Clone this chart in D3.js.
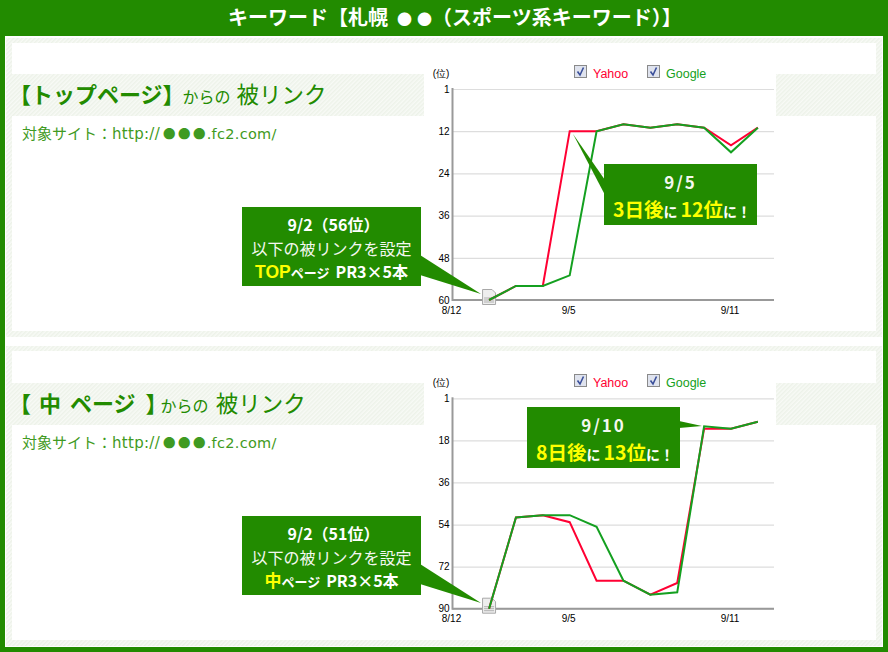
<!DOCTYPE html>
<html>
<head>
<meta charset="utf-8">
<title>キーワード</title>
<script src="https://cdnjs.cloudflare.com/ajax/libs/d3/7.8.5/d3.min.js"></script>
<style>
html, body { margin: 0; padding: 0; background: #fff; }
svg { display: block; }
text { font-family: "Noto Sans CJK JP", "Noto Sans", sans-serif; }
.tick text, .small { font-family: "Liberation Sans", sans-serif; }
</style>
</head>
<body>
<div id="app"></div>
<script>
var seriesNames = ["Yahoo", "Google"];
var seriesColors = ["#ff0033", "#14a020"];

// x position is days counted from 9/2, 8/12 sits just left of it on this chart
var days = [0, 1, 2, 3, 4, 5, 6, 7, 8, 9, 10];
var xTickDays = [-1.36, 3, 9];
var xTickLabels = ["8/12", "9/5", "9/11"];

var topYTicks = [0, 12, 24, 36, 48, 60];
var topYLabels = ["1", "12", "24", "36", "48", "60"];
var topYahoo = [60, 56, 56, 12, 12, 10, 11, 10, 11, 16, 11];
var topGoogle = [60, 56, 56, 53, 12, 10, 11, 10, 11, 18, 11];

var midYTicks = [0, 18, 36, 54, 72, 90];
var midYLabels = ["1", "18", "36", "54", "72", "90"];
var midYahoo = [90, 51, 50, 53, 78, 78, 84, 79, 13, 13, 10];
var midGoogle = [90, 51, 50, 50, 55, 78, 84, 83, 12, 13, 10];

var WIDTH = 888, HEIGHT = 652;
var GREEN = "#228b00", YELLOW = "#ffff00", WHITE = "#fff", SUB = "#3f9a22";
var LATIN = "DejaVu Sans";

var svg = d3.select("#app").append("svg")
	.attr("width", WIDTH)
	.attr("height", HEIGHT);

var pattern = svg.append("defs").append("pattern")
	.attr("id", "hatch")
	.attr("patternUnits", "userSpaceOnUse")
	.attr("width", 3)
	.attr("height", 3)
	.attr("patternTransform", "rotate(-45)");
pattern.append("rect").attr("width", 3).attr("height", 3).attr("fill", "#f8faf6");
pattern.append("rect").attr("width", 3).attr("height", 1.5).attr("fill", "#edf2e9");

function box(parent, x, y, w, h, fill) {
	return parent.append("rect")
		.attr("x", x).attr("y", y)
		.attr("width", w).attr("height", h)
		.attr("fill", fill);
}

// one text line built from runs: t text, s size, c colour, and optional
// dx shift, w weight, f font family, ls letter spacing
function runs(parent, x, y, parts, anchor) {
	var t = parent.append("text")
		.attr("x", x).attr("y", y)
		.attr("text-anchor", anchor);
	parts.forEach(function(p) {
		var span = t.append("tspan")
			.attr("font-size", p.s)
			.attr("fill", p.c)
			.attr("font-weight", p.w || 400)
			.text(p.t);
		if (p.dx) span.attr("dx", p.dx);
		if (p.f) span.attr("font-family", p.f);
		if (p.ls) span.attr("letter-spacing", p.ls);
	});
	return t;
}

// frame
box(svg, 0, 0, WIDTH, HEIGHT, GREEN);
box(svg, 5, 36, 878, 611, WHITE);

runs(svg, 228, 25, [
	{ t: "キーワード【札幌", s: 20, c: WHITE, w: 700 },
	{ t: "●", s: 15, c: WHITE, w: 700, dx: 9 },
	{ t: "●", s: 15, c: WHITE, w: 700, dx: 5 },
	{ t: "（スポーツ系キーワード）】", s: 20, c: WHITE, w: 700 }
], "start");

var siteLine = [
	{ t: "対象サイト：", s: 15, c: SUB },
	{ t: "http://", s: 15, c: SUB, f: LATIN, ls: 0.3 },
	{ t: "●", s: 12.5, c: SUB, dx: 3 },
	{ t: "●", s: 12.5, c: SUB, dx: 2.5 },
	{ t: "●", s: 12.5, c: SUB, dx: 2.5 },
	{ t: ".fc2.com/", s: 14.5, c: SUB, f: LATIN, ls: 0.3, dx: 1 }
];

function drawPanel(o) {
	var g = svg.append("g");

	box(g, 6, o.panelTop, 876, o.panelBottom - o.panelTop, "url(#hatch)");
	box(g, 12, o.panelTop + 5, 864, o.panelBottom - o.panelTop - 11, WHITE);
	box(g, 12, o.bandTop, 864, 42, "url(#hatch)");
	box(g, 424, o.bandTop, 352, 42, WHITE);

	runs(g, 9, o.bandTop + 29, o.heading, "start");
	runs(g, 22, o.bandTop + 65, siteLine, "start");

	var x = d3.scaleLinear().domain([-1.36, 10.6]).range([452.5, 774]);
	var y = d3.scaleLinear().domain(o.yDomain).range([o.yTop, o.yBottom]);

	// gridlines come from the tick lines of the left axis
	var yAxis = d3.axisLeft(y)
		.tickValues(o.yTicks)
		.tickFormat(function(d, i) { return o.yLabels[i]; })
		.tickSize(-(x.range()[1] - x.range()[0]))
		.tickPadding(3);
	var yg = g.append("g").attr("transform", "translate(452.5,0)").call(yAxis);
	yg.select(".domain").remove();
	yg.selectAll(".tick line").attr("stroke", "#dddddd").attr("stroke-width", 1.2);
	yg.selectAll(".tick text").attr("font-size", 10).attr("fill", "#000");

	var xAxis = d3.axisBottom(x)
		.tickValues(xTickDays)
		.tickFormat(function(d, i) { return xTickLabels[i]; })
		.tickSize(0)
		.tickPadding(6.5);
	var xg = g.append("g").attr("transform", "translate(0," + o.yBottom + ")").call(xAxis);
	xg.select(".domain").remove();
	xg.selectAll(".tick text").attr("font-size", 10).attr("fill", "#000").attr("dx", -1.5);

	g.append("line")
		.attr("x1", x.range()[0]).attr("x2", x.range()[1])
		.attr("y1", o.yBottom).attr("y2", o.yBottom)
		.attr("stroke", "#999").attr("stroke-width", 2);
	g.append("line")
		.attr("x1", x.range()[0]).attr("x2", x.range()[0])
		.attr("y1", o.yTop - 1).attr("y2", o.yBottom + 1)
		.attr("stroke", "#999").attr("stroke-width", 2);

	g.append("text")
		.attr("class", "small")
		.attr("x", 441).attr("y", o.yTop - 12)
		.attr("text-anchor", "middle")
		.attr("font-size", 10).attr("fill", "#000")
		.text("(位)");

	// page icon on the first point
	var icon = g.append("g")
		.attr("transform", "translate(" + x(days[0]) + "," + o.yBottom + ")");
	icon.append("path")
		.attr("d", "M-6.5,-10.5H3L6.5,-7V4.5H-6.5Z")
		.attr("fill", "#eeeeee")
		.attr("stroke", "#a8a8a8");
	icon.selectAll("line").data([-2, 0, 2]).join("line")
		.attr("x1", -5).attr("x2", 5)
		.attr("y1", function(d) { return d; })
		.attr("y2", function(d) { return d; })
		.attr("stroke", "#b0b0b0");

	var lineGen = d3.line()
		.x(function(d, i) { return x(days[i]); })
		.y(function(d) { return y(d); });

	[o.yahoo, o.google].forEach(function(values, i) {
		g.append("path")
			.attr("d", lineGen(values))
			.attr("fill", "none")
			.attr("stroke", seriesColors[i])
			.attr("stroke-width", 2);
	});

	// legend
	[574, 647].forEach(function(lx, i) {
		var l = g.append("g").attr("transform", "translate(" + lx + "," + o.legendTop + ")");
		l.append("rect")
			.attr("x", 0.5).attr("y", 0.5)
			.attr("width", 12).attr("height", 12)
			.attr("fill", "#dfe3ee")
			.attr("stroke", "#8a8a8a");
		l.append("path")
			.attr("d", "M3.5,6.5L6,10L9.5,2.5")
			.attr("fill", "none")
			.attr("stroke", "#3a4f9a")
			.attr("stroke-width", 1.6);
		l.append("text")
			.attr("class", "small")
			.attr("x", 19).attr("y", 13)
			.attr("font-size", 12.5)
			.attr("fill", seriesColors[i])
			.text(seriesNames[i]);
	});

	o.callouts.forEach(function(c) {
		var cg = g.append("g");
		cg.append("path")
			.attr("d", "M" + c.tail.map(function(p) { return p.join(","); }).join("L") + "Z")
			.attr("fill", GREEN);
		box(cg, c.x, c.y, c.w, c.h, GREEN);
		c.lines.forEach(function(l) {
			runs(cg, c.x + c.w / 2 + (l.shift || 0), c.y + l.dy, l.parts, "middle");
		});
	});
}

drawPanel({
	panelTop: 38, panelBottom: 337, bandTop: 74,
	yDomain: [0, 60], yTop: 89, yBottom: 300,
	yTicks: topYTicks, yLabels: topYLabels,
	yahoo: topYahoo, google: topGoogle,
	legendTop: 65,
	heading: [
		{ t: "【トップページ】", s: 22, c: GREEN, w: 700 },
		{ t: "からの", s: 16, c: GREEN, dx: -2 },
		{ t: "被リンク", s: 22.5, c: GREEN, dx: 6 }
	],
	callouts: [
		{
			x: 242, y: 207, w: 179, h: 79,
			tail: [[420, 255], [420, 275], [481, 294]],
			lines: [
				{ dy: 24, shift: 2, parts: [{ t: "9/2（56位）", s: 16, c: WHITE, w: 700 }] },
				{ dy: 48, parts: [{ t: "以下の被リンクを設定", s: 16, c: "#f4f8f0" }] },
				{ dy: 71, parts: [
					{ t: "TOP", s: 17.5, c: YELLOW, w: 700, f: "Liberation Sans" },
					{ t: "ページ", s: 13, c: WHITE, w: 700 },
					{ t: "PR3×5本", s: 16, c: WHITE, w: 700, dx: 6 }
				] }
			]
		},
		{
			x: 604, y: 164, w: 153, h: 61,
			tail: [[605, 180], [605, 195], [573, 134]],
			lines: [
				{ dy: 24.5, parts: [{ t: "9/5", s: 17, c: "#f4f8f0", w: 700, ls: 2 }] },
				{ dy: 53, shift: 1.5, parts: [
					{ t: "3日後", s: 19.5, c: YELLOW, w: 700 },
					{ t: "に", s: 14, c: WHITE, w: 700 },
					{ t: "12位", s: 19.5, c: YELLOW, w: 700, dx: 3 },
					{ t: "に！", s: 14, c: WHITE, w: 700 }
				] }
			]
		}
	]
});

drawPanel({
	panelTop: 346, panelBottom: 646, bandTop: 383,
	yDomain: [0, 90], yTop: 398.3, yBottom: 608.7,
	yTicks: midYTicks, yLabels: midYLabels,
	yahoo: midYahoo, google: midGoogle,
	legendTop: 374,
	heading: [
		{ t: "【", s: 22, c: GREEN, w: 700 },
		{ t: "中", s: 22, c: GREEN, w: 700, dx: 8 },
		{ t: "ページ", s: 22, c: GREEN, w: 700, dx: 9 },
		{ t: "】", s: 22, c: GREEN, w: 700, dx: 10 },
		{ t: "からの", s: 16, c: GREEN, dx: -7 },
		{ t: "被リンク", s: 22.5, c: GREEN, dx: 7 }
	],
	callouts: [
		{
			x: 242, y: 516, w: 179, h: 79,
			tail: [[420, 564], [420, 584], [481, 603]],
			lines: [
				{ dy: 24, shift: 2, parts: [{ t: "9/2（51位）", s: 16, c: WHITE, w: 700 }] },
				{ dy: 48, parts: [{ t: "以下の被リンクを設定", s: 16, c: "#f4f8f0" }] },
				{ dy: 71, parts: [
					{ t: "中", s: 17, c: YELLOW, w: 700 },
					{ t: "ページ", s: 13, c: WHITE, w: 700 },
					{ t: "PR3×5本", s: 16, c: WHITE, w: 700, dx: 6 }
				] }
			]
		},
		{
			x: 527, y: 407, w: 153, h: 61,
			tail: [[679, 421], [679, 428], [702, 426]],
			lines: [
				{ dy: 24.5, parts: [{ t: "9/10", s: 17, c: "#f4f8f0", w: 700, ls: 2 }] },
				{ dy: 53, shift: 1.5, parts: [
					{ t: "8日後", s: 19.5, c: YELLOW, w: 700 },
					{ t: "に", s: 14, c: WHITE, w: 700 },
					{ t: "13位", s: 19.5, c: YELLOW, w: 700, dx: 3 },
					{ t: "に！", s: 14, c: WHITE, w: 700 }
				] }
			]
		}
	]
});
</script>
</body>
</html>
